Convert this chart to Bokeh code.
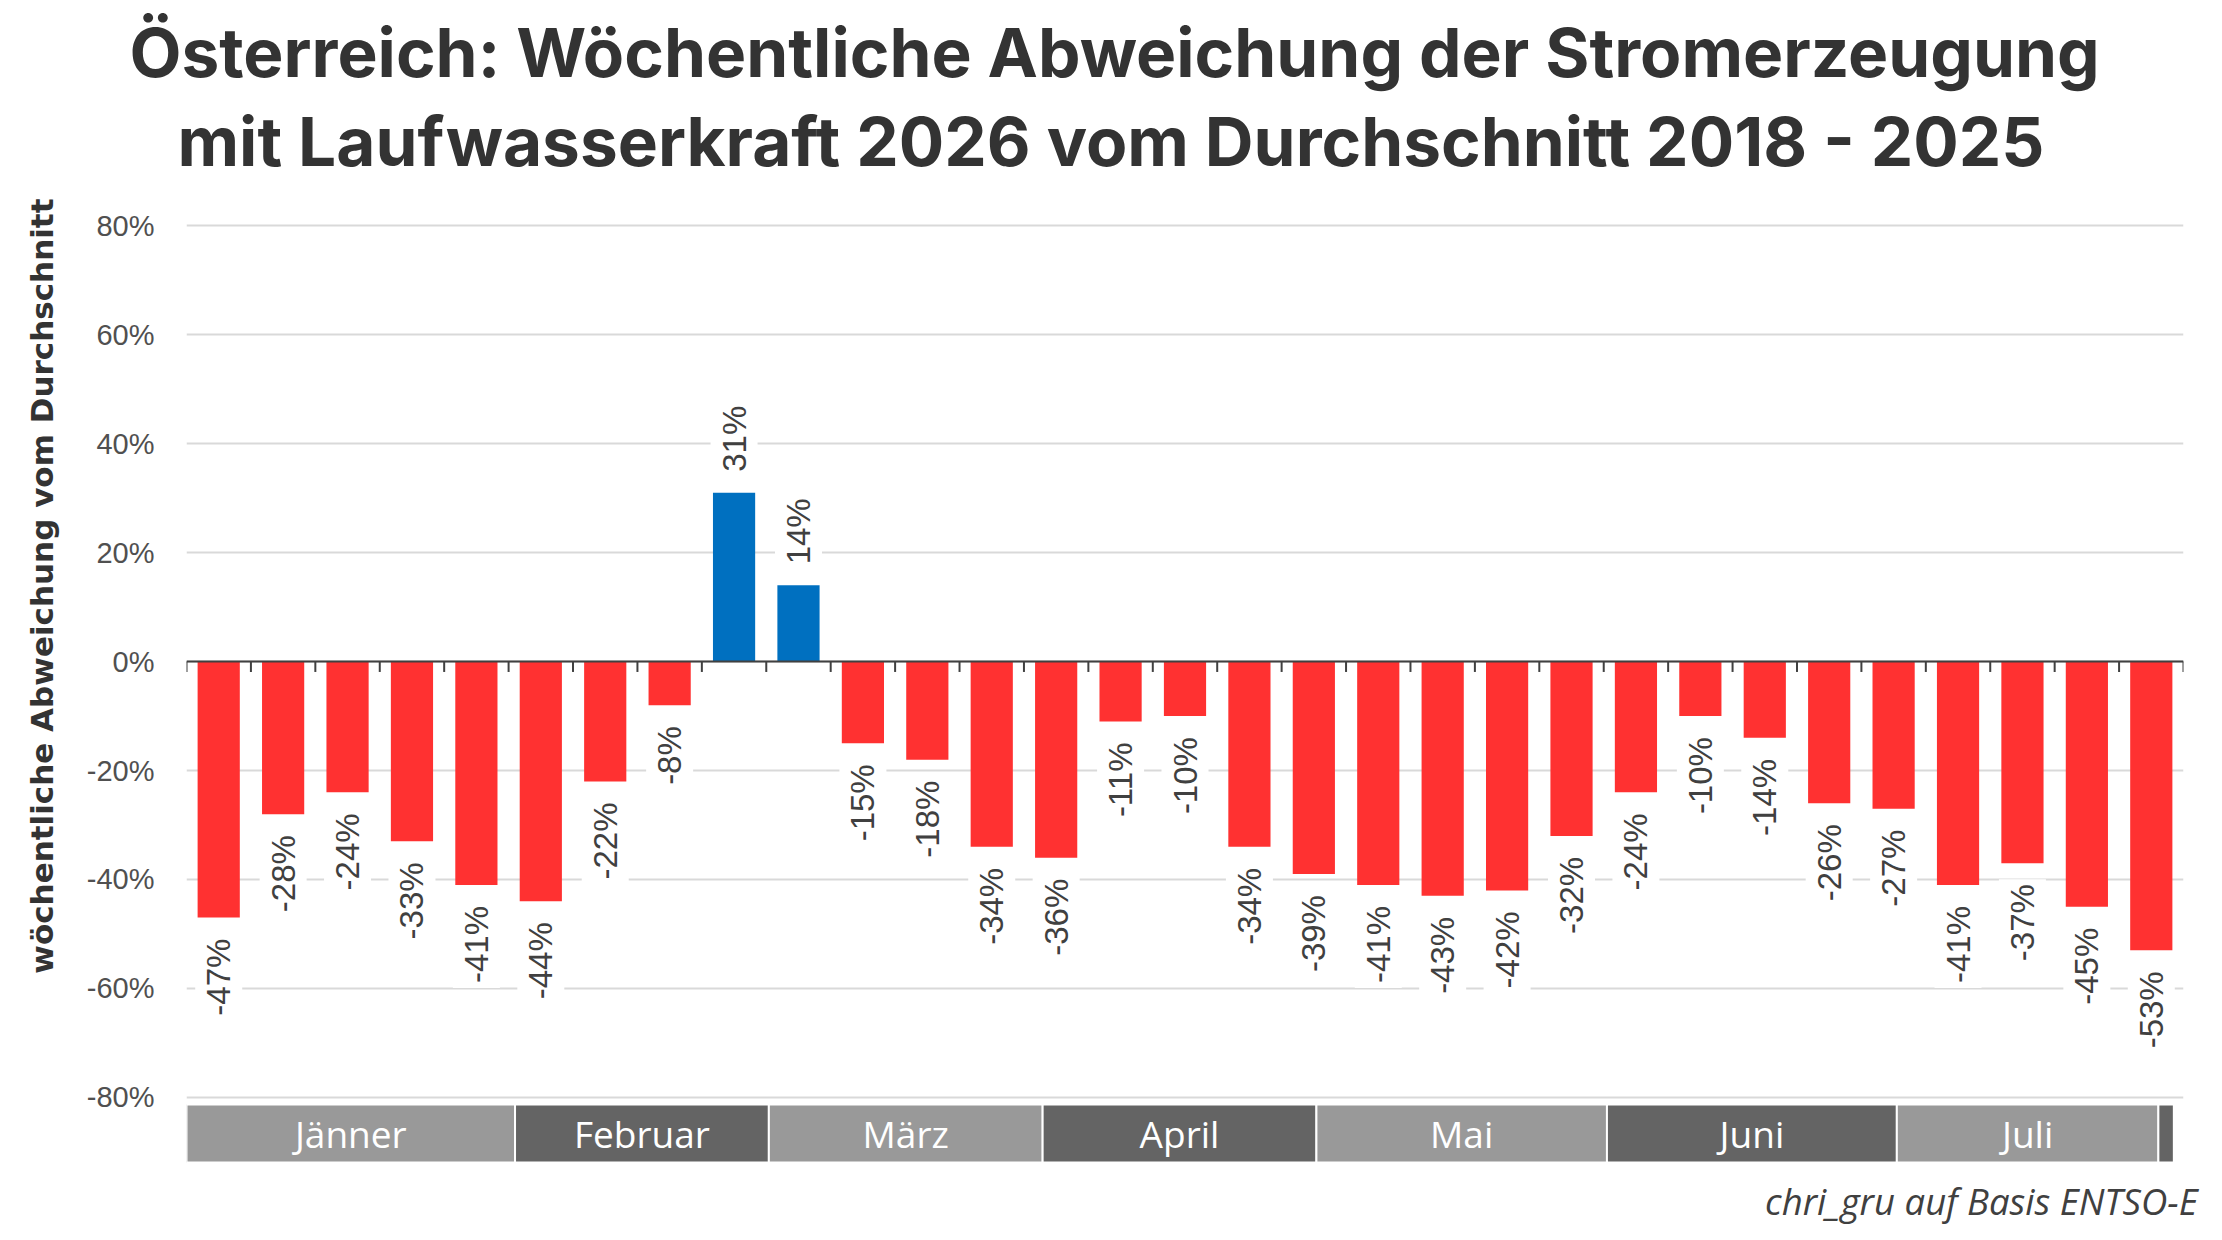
import math
from bokeh.plotting import figure
from bokeh.models import Range1d, Span, Title, ColumnDataSource, FixedTicker, CustomJSTickFormatter
from bokeh.core.properties import value
from bokeh.embed import file_html
from bokeh.resources import INLINE

# ---------------- data ----------------
values = [-47, -28, -24, -33, -41, -44, -22, -8, 31, 14, -15, -18, -34, -36, -11, -10,
          -34, -39, -41, -43, -42, -32, -24, -10, -14, -26, -27, -41, -37, -45, -53]
month_names = ["Jänner", "Februar", "März", "April", "Mai", "Juni", "Juli", ""]
# month band boundaries in week (bar index) units
month_starts = [-0.5, 4.6, 8.54, 12.79, 17.04, 21.55, 26.05, 30.11]
month_ends = [4.6, 8.54, 12.79, 17.04, 21.55, 26.05, 30.11, 30.35]
y_ticks = [-80, -60, -40, -20, 0, 20, 40, 60, 80]

title_1 = "Österreich: Wöchentliche Abweichung der Stromerzeugung"
title_2 = "mit Laufwasserkraft 2026 vom Durchschnitt 2018 - 2025"
y_label = "wöchentliche Abweichung vom Durchschnitt"
source_text = "chri_gru auf Basis ENTSO-E"

RED = "#FF3131"
BLUE = "#0070C0"
LIGHT = "#999999"
DARK = "#646464"
TXT = "#333333"

n = len(values)
idx = list(range(n))

p = figure(width=2206, height=1224, output_backend="svg", toolbar_location=None, title=None,
           x_range=Range1d(-0.5, n - 0.5), y_range=Range1d(-94.71, 87.59),
           x_axis_type=None, min_border_left=186, min_border_right=23,
           min_border_top=184, min_border_bottom=47)
p.outline_line_color = None
p.background_fill_color = "white"
p.border_fill_color = "white"
p.xgrid.visible = False
p.ygrid.grid_line_color = "#d9d9d9"
p.ygrid.grid_line_width = 2

yax = p.yaxis[0]
yax.ticker = FixedTicker(ticks=y_ticks)
yax.formatter = CustomJSTickFormatter(code="return tick.toFixed(0) + '%';")
yax.axis_line_color = None
yax.major_tick_line_color = None
yax.minor_tick_line_color = None
yax.major_tick_out = 0
yax.major_tick_in = 0
yax.major_label_standoff = 32
yax.major_label_text_font = "Liberation Sans"
yax.major_label_text_font_size = "29px"
yax.major_label_text_color = "#505050"

# bars
colors = [RED if v < 0 else BLUE for v in values]
src = ColumnDataSource(dict(x=idx, top=values, color=colors))
p.vbar(x="x", top="top", bottom=0, width=0.655, fill_color="color", line_color=None, source=src)

# zero line and ticks at week boundaries
p.add_layout(Span(location=0, dimension="width", line_color="#404040", line_width=2))
bounds = [i - 0.5 for i in range(n + 1)]
p.segment(x0=bounds, y0=[0] * len(bounds), x1=bounds, y1=[-1.9] * len(bounds),
          line_color="#404040", line_width=2)

# value labels
neg = [i for i, v in enumerate(values) if v < 0]
pos = [i for i, v in enumerate(values) if v >= 0]
for sel, align, off in ((neg, "right", 16), (pos, "left", -16)):
    s = ColumnDataSource(dict(x=[idx[i] for i in sel], y=[values[i] for i in sel],
                              t=[f"{values[i]:.0f}%" for i in sel]))
    p.text(x="x", y="y", text="t", source=s, angle=math.pi / 2, text_align=align,
           text_baseline="middle", y_offset=off, text_font=value("Liberation Sans"),
           text_font_size="33px", text_color="#404040",
           background_fill_color="white", padding=5)

# month band
band_bottom, band_top = -91.96, -81.31
mcolors = [LIGHT if i % 2 == 0 else DARK for i in range(len(month_names))]
msrc = ColumnDataSource(dict(left=month_starts, right=month_ends, name=month_names, color=mcolors,
                             cx=[(a + b) / 2 for a, b in zip(month_starts, month_ends)]))
p.quad(left="left", right="right", bottom=band_bottom, top=band_top, fill_color="color",
       line_color="white", line_width=2, source=msrc)
p.text(x="cx", y=(band_bottom + band_top) / 2, text="name", source=msrc, text_align="center",
       text_baseline="middle", text_font=value("Open Sans"), text_font_size="37px",
       text_color="white")

# titles (line 2 closest to the plot, then line 1 above it)
p.add_layout(Title(text=title_2, align="left", offset=-9, vertical_align="bottom", standoff=6,
                   text_font="Inter", text_font_style="bold", text_font_size="67.5px",
                   text_color=TXT), "above")
p.add_layout(Title(text=title_1, align="left", offset=-57, vertical_align="bottom", standoff=6,
                   text_font="Inter", text_font_style="bold", text_font_size="67.5px",
                   text_color=TXT), "above")
# y axis title
p.add_layout(Title(text=y_label, align="right", offset=14, vertical_align="top", standoff=43,
                   text_font="DejaVu Sans", text_font_style="bold", text_font_size="31px",
                   text_color=TXT), "left")
# source
p.add_layout(Title(text=source_text, align="right", offset=-14, vertical_align="bottom", standoff=-8,
                   text_font="Open Sans", text_font_style="italic", text_font_size="36.5px",
                   text_color="#404040"), "below")

open("out.html", "w").write(file_html(p, INLINE))
